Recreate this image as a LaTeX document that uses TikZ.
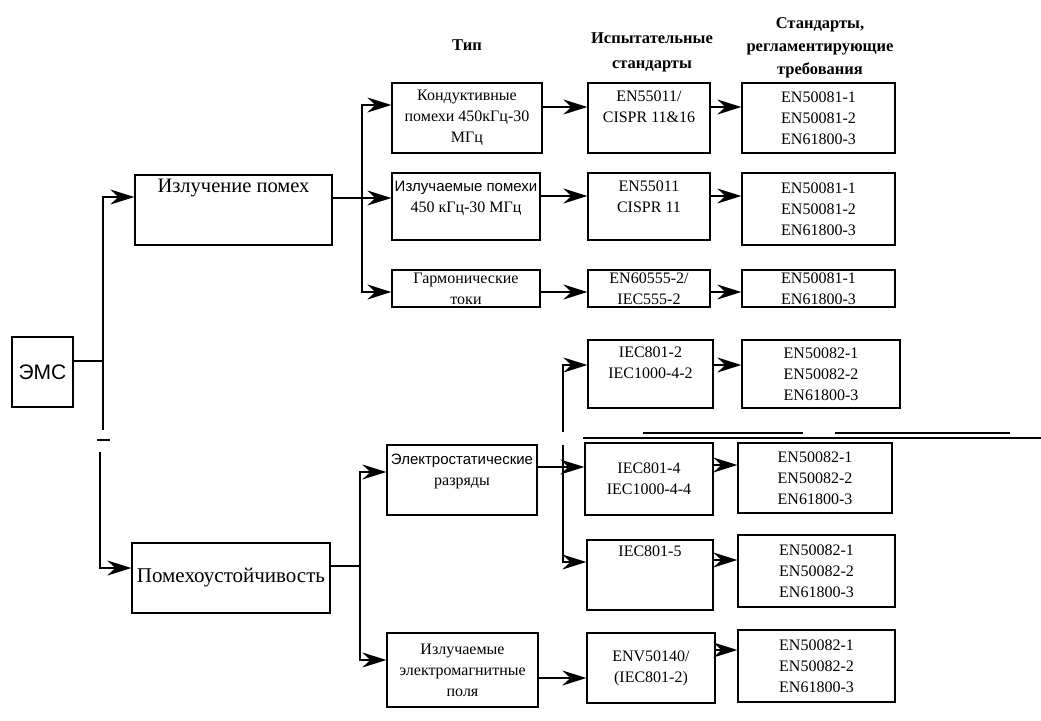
\documentclass[tikz,border=0pt]{standalone}
\usepackage{fontspec}
\setmainfont{Liberation Serif}
\newfontfamily\sansf{Liberation Sans}
\usetikzlibrary{arrows.meta}
\newcommand\mybox[6]{%
  \node[box, minimum width={#4-#2}, minimum height={#5-#3}] (#1) at ({(#2+#4)/2},{(#3+#5)/2}) {#6};}
\newcommand\myboxtop[7]{%
  \node[box, minimum width={#4-#2}, minimum height={#5-#3},
    label={[name=#1t, anchor=north, align=center, inner sep=0pt, yshift=-#7pt, font=\fontsize{16}{21}\selectfont]north:{#6}}]
    (#1) at ({(#2+#4)/2},{(#3+#5)/2}) {};}
\begin{document}
\begin{tikzpicture}[x=1pt,y=-1pt,
  box/.style={draw, line width=1.3pt, inner sep=0pt, align=center, font=\fontsize{16}{21}\selectfont},
  hdr/.style={align=center, inner sep=0pt, font=\bfseries\fontsize{16.5}{23}\selectfont},
  ln/.style={line width=1.6pt},
  arr/.style={line width=1.6pt, -{Stealth[length=24pt,width=15pt,inset=8pt]}}]
\useasboundingbox (0,0) rectangle (1041,720);

% headers
\node[hdr] (hTip) at (467,45) {Тип};
\node[hdr, font=\bfseries\fontsize{16.5}{25}\selectfont] (hIsp) at (652,52) {Испытательные\\стандарты};
\node[hdr] (hStd) at (820,48) {Стандарты,\\регламентирующие\\требования};

% left
\mybox{ems}{12}{337}{73}{407}{\sansf\fontsize{21}{24}\selectfont ЭМС}
\node[draw, line width=1.3pt, minimum width=197, minimum height=70,
  label={[name=izlt, anchor=north, inner sep=0pt, yshift=-5pt, font=\fontsize{20.5}{24}\selectfont]north:{Излучение помех}}]
  (izl) at (233.5,210) {};
\mybox{pom}{132}{543}{330}{613}{\fontsize{21}{24}\selectfont Помехоустойчивость}

% type column
\mybox{kond}{392}{83}{542}{153}{Кондуктивные\\помехи 450кГц-30\\МГц}
\myboxtop{izlp}{392}{173}{540}{240}{\sansf\fontsize{15}{21}\selectfont Излучаемые помехи\\450 кГц-30 МГц}{9}
\mybox{garm}{392}{270}{540}{307}{Гармонические\\токи}
\myboxtop{elst}{387}{445}{537}{515}{\sansf\fontsize{15}{21}\selectfont Электростатические\\разряды}{9}
\mybox{izlem}{387}{633}{538}{707}{Излучаемые\\электромагнитные\\поля}

% test standards
\myboxtop{t1}{588}{83}{710}{153}{EN55011/\\CISPR 11\&16}{8}
\myboxtop{t2}{588}{173}{710}{240}{EN55011\\CISPR 11}{8}
\mybox{t3}{588}{270}{710}{307}{EN60555-2/\\IEC555-2}
\myboxtop{t4}{588}{340}{713}{408}{IEC801-2\\IEC1000-4-2}{7}
\mybox{t5}{585}{443}{713}{515}{IEC801-4\\IEC1000-4-4}
\myboxtop{t6}{587}{540}{713}{610}{IEC801-5}{6}
\mybox{t7}{587}{633}{715}{703}{ENV50140/\\(IEC801-2)}

% requirement standards
\mybox{r1}{742}{83}{895}{153}{EN50081-1\\EN50081-2\\EN61800-3}
\mybox{r2}{742}{173}{895}{245}{EN50081-1\\EN50081-2\\EN61800-3}
\mybox{r3}{742}{270}{895}{307}{EN50081-1\\EN61800-3}
\mybox{r4}{742}{340}{900}{408}{EN50082-1\\EN50082-2\\EN61800-3}
\mybox{r5}{738}{443}{892}{513}{EN50082-1\\EN50082-2\\EN61800-3}
\mybox{r6}{738}{535}{895}{607}{EN50082-1\\EN50082-2\\EN61800-3}
\mybox{r7}{738}{630}{895}{702}{EN50082-1\\EN50082-2\\EN61800-3}

% EMS connectors
\coordinate (jE) at (103,361);
\coordinate (a1) at (103,430);
\coordinate (a2) at (103,197);
\coordinate (tk1) at (97,440);
\coordinate (tk2) at (110,440);
\coordinate (b1) at (100,452);
\coordinate (b2) at (100,568);
\draw[ln] (ems.east |- jE) -- (jE);
\draw[arr] (a1) -- (a2) -- (izl.west |- a2);
\draw[ln] (tk1) -- (tk2);
\draw[arr] (b1) -- (b2) -- (pom.west |- b2);

% emission branch
\coordinate (c0) at (362,198);
\coordinate (c1) at (362,105);
\coordinate (c2) at (362,292);
\draw[arr] (izl.east |- c0) -- (izlp.west |- c0);
\draw[arr] (c0) -- (c1) -- (kond.west |- c1);
\draw[arr] (c0) -- (c2) -- (garm.west |- c2);

\coordinate (y1) at (0,107);
\coordinate (y2) at (0,196);
\coordinate (y3) at (0,292);
\draw[arr] (kond.east |- y1) -- (t1.west |- y1);
\draw[arr] (t1.east |- y1) -- (r1.west |- y1);
\draw[arr] (izlp.east |- y2) -- (t2.west |- y2);
\draw[arr] (t2.east |- y2) -- (r2.west |- y2);
\draw[arr] (garm.east |- y3) -- (t3.west |- y3);
\draw[arr] (t3.east |- y3) -- (r3.west |- y3);

% immunity branch
\coordinate (d0) at (360,566);
\coordinate (d1) at (360,472);
\coordinate (d2) at (360,660);
\draw[ln] (pom.east |- d0) -- (d0);
\draw[arr] (d0) -- (d1) -- (elst.west |- d1);
\draw[arr] (d0) -- (d2) -- (izlem.west |- d2);

\coordinate (e1) at (563,432);
\coordinate (e2) at (563,365);
\draw[arr] (e1) -- (e2) -- (t4.west |- e2);
\draw[arr] (t4.east |- e2) -- (r4.west |- e2);

\coordinate (f0) at (0,467);
\coordinate (f1) at (0,465);
\draw[arr] (elst.east |- f0) -- (t5.west |- f0);
\draw[arr] (t5.east |- f1) -- (r5.west |- f1);

\coordinate (g1) at (563,445);
\coordinate (g2) at (563,562);
\coordinate (g3) at (0,560);
\draw[arr] (g1) -- (g2) -- (t6.west |- g2);
\draw[arr] (t6.east |- g3) -- (r6.west |- g3);

\coordinate (h1) at (0,678);
\coordinate (h2) at (0,650);
\draw[arr] (izlem.east |- h1) -- (t7.west |- h1);
\draw[arr] (t7.east |- h2) -- (r7.west |- h2);

% horizontal rule
\coordinate (k1) at (583,438);
\coordinate (k2) at (1041,438);
\coordinate (k3) at (643,433);
\coordinate (k4) at (803,433);
\coordinate (k5) at (835,433);
\coordinate (k6) at (1010,433);
\draw[line width=2.6pt] (k1) -- (k2);
\draw[line width=1.4pt] (k3) -- (k4);
\draw[line width=1.4pt] (k5) -- (k6);
\end{tikzpicture}
\end{document}
